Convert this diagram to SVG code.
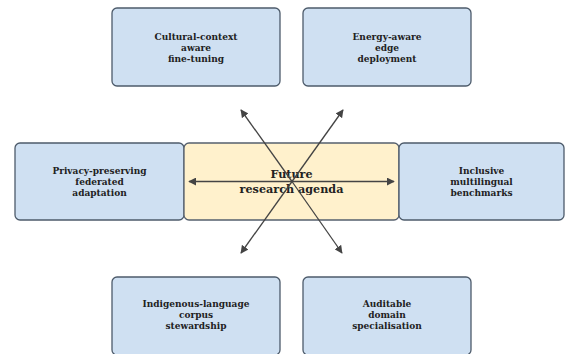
<svg xmlns="http://www.w3.org/2000/svg" width="565" height="354" viewBox="0 0 565 354">
<style>
.box{fill:#cfe0f2;stroke:#4d5b6b;stroke-width:1.3}
.core{fill:#fff1cc;stroke:#56606e;stroke-width:1.3}
.t{font-family:"DejaVu Serif",serif;font-weight:bold;font-size:9px;fill:#222;text-anchor:middle}
.tc{font-family:"DejaVu Serif",serif;font-weight:bold;font-size:11.2px;fill:#222;text-anchor:middle}
.c{stroke:#444;stroke-width:1.3;fill:none;marker-end:url(#ah)}
</style>
<defs>
<marker id="ah" viewBox="0 0 10 10" refX="9" refY="5" markerWidth="8" markerHeight="8" markerUnits="userSpaceOnUse" orient="auto">
<path d="M0,0 L10,5 L0,10 z" fill="#444"/>
</marker>
</defs>
<rect width="565" height="354" fill="#fff"/>
<g id="n-cultural"><rect class="box" x="112" y="8" width="168" height="78" rx="5"/>
<text class="t" x="196" y="40">Cultural-context</text><text class="t" x="196" y="50.5">aware</text><text class="t" x="196" y="61.5">fine-tuning</text></g>
<g id="n-energy"><rect class="box" x="303" y="8" width="168" height="78" rx="5"/>
<text class="t" x="387" y="40">Energy-aware</text><text class="t" x="387" y="50.5">edge</text><text class="t" x="387" y="61.5">deployment</text></g>
<g id="n-privacy"><rect class="box" x="15" y="143" width="169" height="77" rx="5"/>
<text class="t" x="99.5" y="174">Privacy-preserving</text><text class="t" x="99.5" y="185">federated</text><text class="t" x="99.5" y="196">adaptation</text></g>
<g id="n-future"><rect class="core" x="184" y="143" width="215" height="77" rx="5"/>
<text class="tc" x="291.5" y="178">Future</text><text class="tc" x="291.5" y="193">research agenda</text></g>
<g id="n-inclusive"><rect class="box" x="399" y="143" width="165" height="77" rx="5"/>
<text class="t" x="481.5" y="174">Inclusive</text><text class="t" x="481.5" y="185">multilingual</text><text class="t" x="481.5" y="196">benchmarks</text></g>
<g id="n-indigenous"><rect class="box" x="112" y="277" width="168" height="78" rx="5"/>
<text class="t" x="196" y="307">Indigenous-language</text><text class="t" x="196" y="318">corpus</text><text class="t" x="196" y="329">stewardship</text></g>
<g id="n-auditable"><rect class="box" x="303" y="277" width="168" height="78" rx="5"/>
<text class="t" x="387" y="307">Auditable</text><text class="t" x="387" y="318">domain</text><text class="t" x="387" y="329">specialisation</text></g>
<g id="connectors">
<line class="c" x1="292" y1="181.5" x2="189" y2="181.5"/>
<line class="c" x1="292" y1="181.5" x2="394" y2="181.5"/>
<line class="c" x1="292" y1="181.5" x2="241" y2="110"/>
<line class="c" x1="292" y1="181.5" x2="343" y2="110"/>
<line class="c" x1="292" y1="181.5" x2="241" y2="253"/>
<line class="c" x1="292" y1="181.5" x2="342" y2="253"/>
</g>
</svg>
